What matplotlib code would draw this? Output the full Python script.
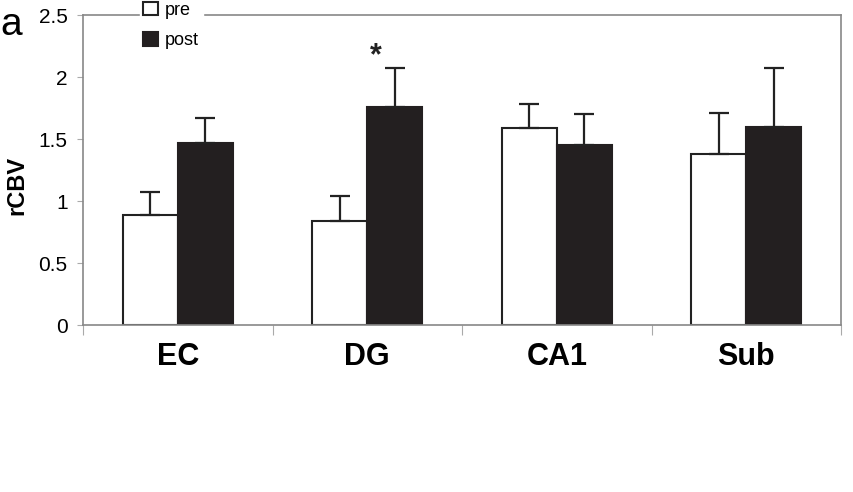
import numpy as np
import matplotlib.pyplot as plt

plt.rcParams["font.family"] = ["Liberation Sans", "DejaVu Sans"]

categories = ["EC", "DG", "CA1", "Sub"]
pre_mean = [0.89, 0.84, 1.59, 1.38]
pre_err = [0.18, 0.20, 0.19, 0.33]
post_mean = [1.47, 1.76, 1.45, 1.60]
post_err = [0.20, 0.31, 0.25, 0.47]

fig = plt.figure(figsize=(8.54, 4.92), dpi=100)
ax = fig.add_axes([0.0972, 0.3394, 0.8876, 0.6301])

x = np.arange(len(categories))
w = 0.29
ax.bar(x - w / 2, pre_mean, w, color="white", edgecolor="#222222", linewidth=1.5,
       label="pre", zorder=2)
ax.bar(x + w / 2, post_mean, w, color="#231f20", edgecolor="#231f20", linewidth=1.5,
       label="post", zorder=2)
ekw = dict(fmt="none", ecolor="#222222", elinewidth=1.6, capsize=7, capthick=1.6, zorder=3)
ax.errorbar(x - w / 2, pre_mean, yerr=[np.zeros(4), pre_err], **ekw)
ax.errorbar(x + w / 2, post_mean, yerr=[np.zeros(4), post_err], **ekw)

# significance marker
ax.text(x[1] + w / 2 - 0.1, 2.17, "*",
        ha="center", va="center", fontsize=22, fontweight="bold", color="#222222")

ax.set_xlim(-0.5, 3.5)
ax.set_ylim(0, 2.5)
ax.set_yticks([0, 0.5, 1, 1.5, 2, 2.5])
ax.set_yticklabels(["0", "0.5", "1", "1.5", "2", "2.5"])
ax.set_xticks(np.arange(-0.5, 4, 1.0))
ax.set_xticklabels([])
ax.set_xticks(x, minor=True)
ax.set_xticklabels(categories, minor=True, fontsize=22, fontweight="bold")
ax.tick_params(axis="x", which="minor", length=0, pad=12)
ax.tick_params(axis="x", which="major", length=7, color="#aaaaaa", direction="out")
ax.tick_params(axis="y", length=4, color="#aaaaaa", labelsize=15, pad=7)
for s in ax.spines.values():
    s.set_color("#888888")
    s.set_linewidth(1.2)
ax.set_ylabel("rCBV", fontsize=17, fontweight="bold", va="center")
ax.yaxis.set_label_coords(-0.087, 0.45)

leg = ax.legend(loc="upper left", bbox_to_anchor=(0.075, 1.055), frameon=True,
                fontsize=13, handlelength=0.8, handleheight=0.8, handletextpad=0.4,
                labelspacing=0.75, borderpad=0.2, borderaxespad=0)
leg.get_frame().set_edgecolor("white")
leg.get_frame().set_facecolor("white")
leg.get_frame().set_alpha(1)
leg.set_zorder(5)

fig.text(0.0, 0.985, "a", fontsize=28, va="top", ha="left")

fig.savefig("out.png", dpi=100)
